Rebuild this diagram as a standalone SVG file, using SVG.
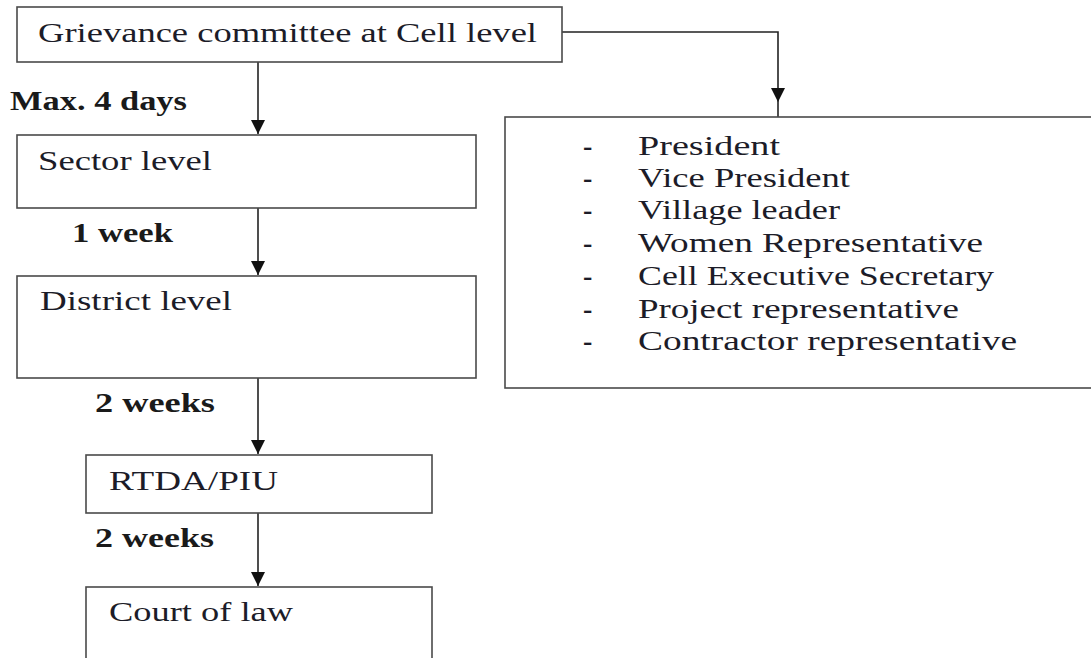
<svg xmlns="http://www.w3.org/2000/svg" width="1091" height="658" viewBox="0 0 1091 658">
<style>
.box{fill:#fff;stroke:#4a4a4a;stroke-width:1.6}
.t{font-family:"Liberation Serif","Times New Roman",serif;font-size:28px;fill:#1c1c28}
.b{font-family:"Liberation Serif","Times New Roman",serif;font-size:27px;font-weight:bold;fill:#1a1a1a}
.c{fill:none;stroke:#222;stroke-width:1.6}
</style>
<defs>
<marker id="ah" viewBox="0 0 10 10" refX="10" refY="5" markerUnits="userSpaceOnUse" markerWidth="14" markerHeight="15" orient="auto">
<path d="M0,0 L10,5 L0,10 z" fill="#111"/>
</marker>
</defs>
<rect width="1091" height="658" fill="#fff"/>
<g id="connectors">
<path class="c" d="M258,62 V134" marker-end="url(#ah)"/>
<path class="c" d="M258,208 V275" marker-end="url(#ah)"/>
<path class="c" d="M258,378 V454" marker-end="url(#ah)"/>
<path class="c" d="M258,513 V586" marker-end="url(#ah)"/>
<path class="c" d="M562,32 H778 V102" marker-end="url(#ah)"/>
<path class="c" d="M778,102 V117"/>
</g>
<g id="cell">
<rect class="box" x="17" y="7" width="545" height="55"/>
<text class="t" x="38" y="42" textLength="499" lengthAdjust="spacingAndGlyphs">Grievance committee at Cell level</text>
</g>
<g id="members">
<rect class="box" x="505" y="117" width="600" height="271"/>
<g class="t">
<text x="583" y="155" font-weight="bold">-</text><text x="638" y="155" textLength="142" lengthAdjust="spacingAndGlyphs">President</text>
<text x="583" y="187" font-weight="bold">-</text><text x="638" y="187" textLength="212" lengthAdjust="spacingAndGlyphs">Vice President</text>
<text x="583" y="219" font-weight="bold">-</text><text x="638" y="219" textLength="202" lengthAdjust="spacingAndGlyphs">Village leader</text>
<text x="583" y="252" font-weight="bold">-</text><text x="638" y="252" textLength="345" lengthAdjust="spacingAndGlyphs">Women Representative</text>
<text x="583" y="285" font-weight="bold">-</text><text x="638" y="285" textLength="356" lengthAdjust="spacingAndGlyphs">Cell Executive Secretary</text>
<text x="583" y="318" font-weight="bold">-</text><text x="638" y="318" textLength="321" lengthAdjust="spacingAndGlyphs">Project representative</text>
<text x="583" y="350" font-weight="bold">-</text><text x="638" y="350" textLength="379" lengthAdjust="spacingAndGlyphs">Contractor representative</text>
</g>
</g>
<g id="labels">
<text class="b" x="10" y="110" textLength="177" lengthAdjust="spacingAndGlyphs">Max. 4 days</text>
<text class="b" x="72" y="242" textLength="101" lengthAdjust="spacingAndGlyphs">1 week</text>
<text class="b" x="95" y="412" textLength="120" lengthAdjust="spacingAndGlyphs">2 weeks</text>
<text class="b" x="95" y="547" textLength="119" lengthAdjust="spacingAndGlyphs">2 weeks</text>
</g>
<g id="sector">
<rect class="box" x="17" y="135" width="459" height="73"/>
<text class="t" x="38" y="170" textLength="174" lengthAdjust="spacingAndGlyphs">Sector level</text>
</g>
<g id="district">
<rect class="box" x="17" y="276" width="459" height="102"/>
<text class="t" x="40" y="310" textLength="192" lengthAdjust="spacingAndGlyphs">District level</text>
</g>
<g id="rtda">
<rect class="box" x="86" y="455" width="346" height="58"/>
<text class="t" x="109" y="490" textLength="169" lengthAdjust="spacingAndGlyphs">RTDA/PIU</text>
</g>
<g id="court">
<rect class="box" x="86" y="587" width="346" height="90"/>
<text class="t" x="109" y="621" textLength="184" lengthAdjust="spacingAndGlyphs">Court of law</text>
</g>
</svg>
